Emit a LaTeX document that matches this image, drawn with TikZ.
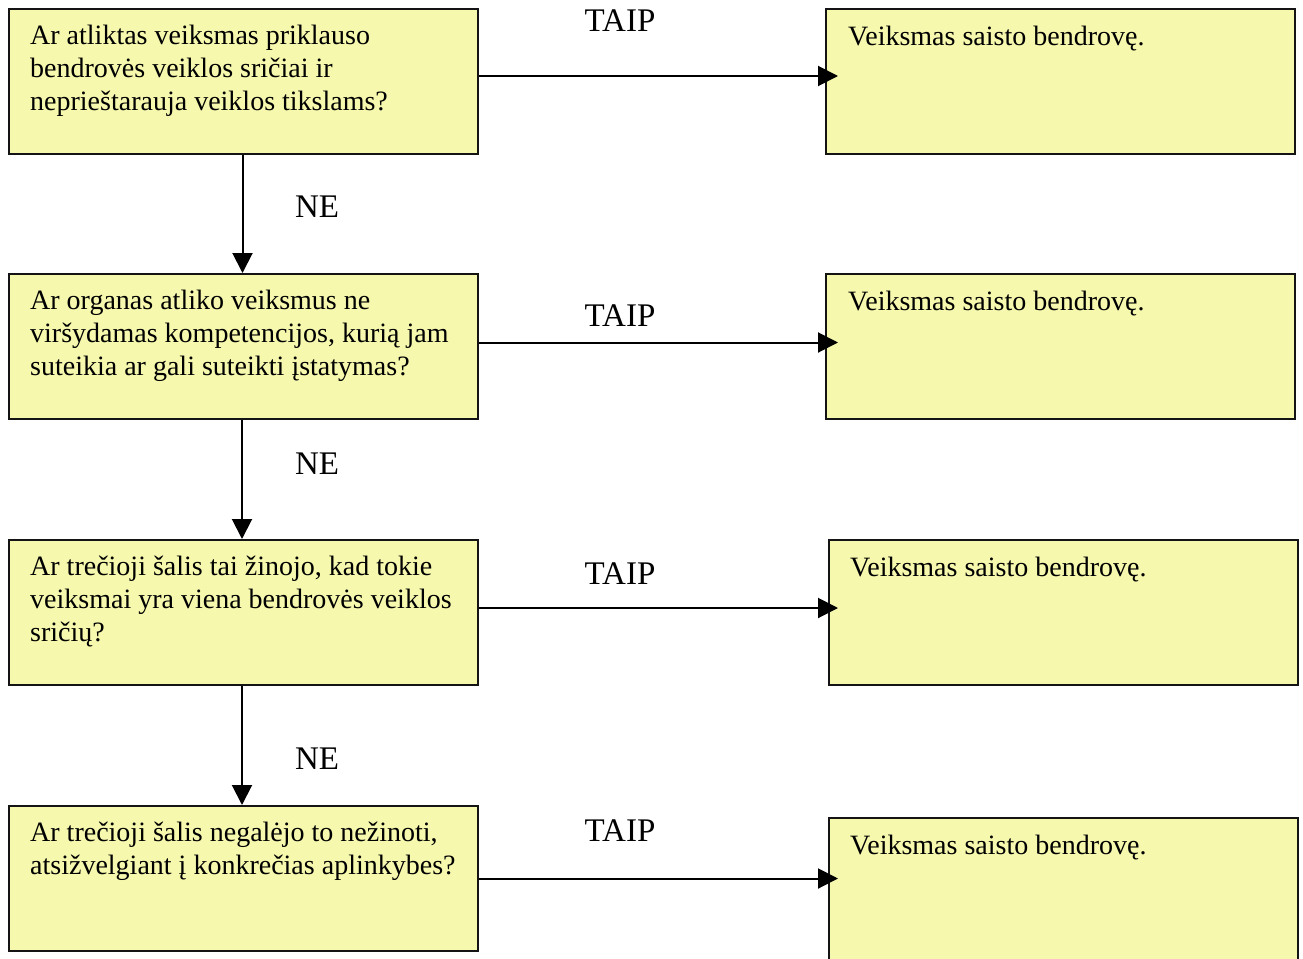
\documentclass[tikz,border=0pt]{standalone}
\usepackage{fontspec}
\setmainfont{Liberation Serif}
\usetikzlibrary{arrows.meta}
\definecolor{boxfill}{RGB}{246,248,174}
\definecolor{boxline}{RGB}{20,20,20}
\tikzset{
  qbox/.style={draw=boxline, fill=boxfill, line width=2pt, minimum width=469pt, minimum height=145pt, anchor=north west, inner sep=0pt},
  txt/.style={anchor=north west, inner sep=0pt, align=left, font=\fontsize{28}{33}\selectfont},
  lbl/.style={anchor=base, inner sep=0pt, font=\fontsize{33}{38}\selectfont},
  conn/.style={line width=2pt, -{Triangle[length=20pt, width=20pt]}}
}
\begin{document}
\begin{tikzpicture}[x=1pt,y=-1pt]
\useasboundingbox (0,0) rectangle (1303,958);
\clip (0,0) rectangle (1303,958);
% left question boxes
\node[qbox] (q1) at (8,8) {};
\node[qbox] (q2) at (8,273) {};
\node[qbox] (q3) at (8,539) {};
\node[qbox] (q4) at (8,805) {};
% right result boxes
\node[qbox] (a1) at (825,8) {};
\node[qbox] (a2) at (825,273) {};
\node[qbox] (a3) at (828,539) {};
\node[qbox, minimum height=160pt] (a4) at (828,817) {};
% texts
\node[txt] (t1) at (30,25) {Ar atliktas veiksmas priklauso\\bendrovės veiklos sričiai ir\\neprieštarauja veiklos tikslams?};
\node[txt] (t2) at (30,290) {Ar organas atliko veiksmus ne\\viršydamas kompetencijos, kurią jam\\suteikia ar gali suteikti įstatymas?};
\node[txt] (t3) at (30,556) {Ar trečioji šalis tai žinojo, kad tokie\\veiksmai yra viena bendrovės veiklos\\sričių?};
\node[txt] (t4) at (30,822) {Ar trečioji šalis negalėjo to nežinoti,\\atsižvelgiant į konkrečias aplinkybes?};
\node[txt] (r1) at (848,26) {Veiksmas saisto bendrovę.};
\node[txt] (r2) at (848,291) {Veiksmas saisto bendrovę.};
\node[txt] (r3) at (850,557) {Veiksmas saisto bendrovę.};
\node[txt] (r4) at (850,835) {Veiksmas saisto bendrovę.};
% horizontal connectors
\coordinate (s1) at ([yshift=5.5pt]q1.east);
\coordinate (s2) at ([yshift=4pt]q2.east);
\coordinate (s3) at ([yshift=4.5pt]q3.east);
\coordinate (s4) at (q4.east);
\draw[conn] (s1) -- ([xshift=13pt]s1 -| a1.west);
\draw[conn] (s2) -- ([xshift=13pt]s2 -| a2.west);
\draw[conn] (s3) -- ([xshift=10pt]s3 -| a3.west);
\draw[conn] (s4) -- ([xshift=10pt]s4 -| a4.west);
% vertical connectors
\draw[conn] ([xshift=-1pt]q1.south) -- ([xshift=-1pt]q2.north);
\draw[conn] ([xshift=-1.5pt]q2.south) -- ([xshift=-1.5pt]q3.north);
\draw[conn] ([xshift=-1.5pt]q3.south) -- ([xshift=-1.5pt]q4.north);
% labels
\node[lbl] (y1) at (620,32) {TAIP};
\node[lbl] (y2) at (620,326) {TAIP};
\node[lbl] (y3) at (620,584) {TAIP};
\node[lbl] (y4) at (620,841) {TAIP};
\node[lbl] (n1) at (317,217) {NE};
\node[lbl] (n2) at (317,474) {NE};
\node[lbl] (n3) at (317,769) {NE};
\end{tikzpicture}
\end{document}
